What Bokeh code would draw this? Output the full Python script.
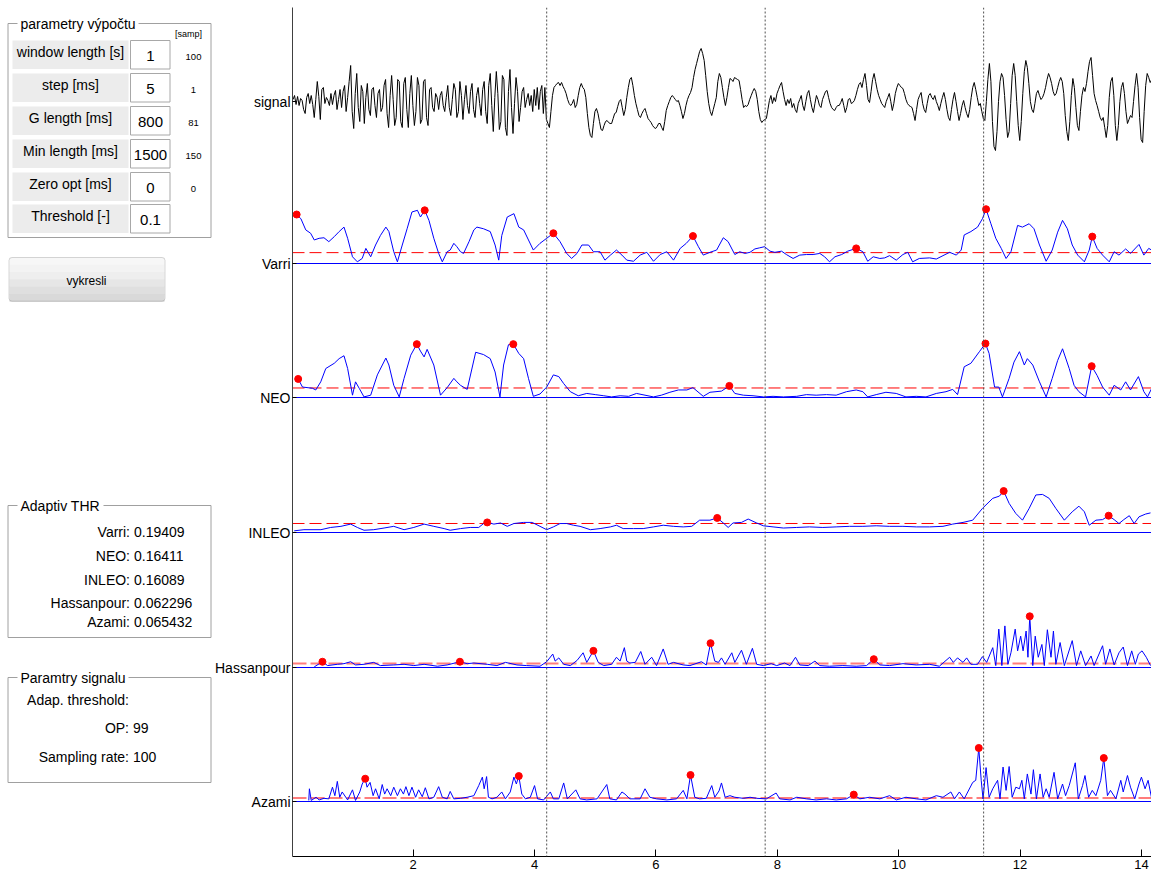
import numpy as np
from bokeh.plotting import figure
from bokeh.models import Range1d, FixedTicker, Label, Span, BoxAnnotation
from bokeh.layouts import row
from bokeh.embed import file_html
from bokeh.resources import INLINE

FONT = "Liberation Sans"

# ---------------- data ----------------
x_ticks = [2, 4, 6, 8, 10, 12, 14]
event_times = [4.2, 7.8, 11.4]
channel_names = ["signal", "Varri", "NEO", "INLEO", "Hassanpour", "Azami"]

signal_t0 = 0.02
signal_dt = 0.025
signal_v = [
    2, 6, -3, 5, -4, 3, 1, -8, -12, 4, 8, -2, 6, -3, -16, 2, 20, 5, -18, 12,
    14, -2, 4, 1, -4, 8, -3, 6, 11, -8, 2, 12, -6, 10, 16, -10, 4, 20, 36, -10,
    -27, 8, 28, -6, -20, 16, 10, -22, 4, 18, -8, -14, 12, 14, -4, -16, 8, 12, -10, -6,
    16, 22, -12, -26, 6, 26, 2, -24, -16, 22, 20, -20, -26, 18, 24, -8, -26, 8, 26, -4,
    -24, -10, 24, 16, -22, -18, 20, 22, -16, -24, 12, 14, -6, -10, 8, 4, -8, 6, 10, -4,
    -10, 4, 16, -6, -14, 2, 18, 12, -16, -10, 20, 6, -18, 2, 16, -4, -12, 10, 18, -8,
    -16, 6, 14, -2, -14, 12, 20, -10, -22, 16, 28, -4, -30, 4, 30, 8, -28, -20, 26, 22,
    -26, -34, 10, 32, -6, -32, -2, 24, 10, -20, -6, 10, 14, -6, 2, 8, -4, 6, -10, 12,
    -4, 14, -8, 10, 16, -12, 14, -18, -22, -26, -10, 6, 14, 16, 18, 19, 16, 19, 15, 12,
    8, 2, -2, -4, -2, 2, -6, -3, 6, 14, 18, 14, 12, 4, -12, -26, -34, -36, -22, -10,
    -7, -12, -20, -28, -29, -24, -20, -19, -21, -22, -22, -17, -12, -11, -5, 0, 2, -6, -14, -8,
    4, 14, 22, 24, 16, 6, -2, -8, -14, -16, -12, -9, -7, -12, -17, -19, -21, -24, -26, -27,
    -25, -22, -22, -26, -29, -20, -9, -4, 0, 4, 6, 4, 2, 0, 1, -4, -10, -17, -12, -4,
    2, 6, 9, 14, 24, 32, 38, 44, 50, 53, 48, 41, 26, 10, -2, -10, -14, -8, -2, 4,
    20, 28, 24, 14, 4, -4, 4, 14, 23, 22, 20, 24, 23, 22, 21, 12, 2, -6, -4, -5,
    -3, 2, 6, 10, 13, 10, 2, -10, -18, -21, -19, -18, -17, -8, 1, 6, -2, 4, 0, 8,
    12, 16, 19, 10, 2, -4, 2, -2, 3, -6, -2, -8, -11, -2, 2, 6, -4, -9, 0, 8,
    11, 2, -6, -11, -2, 6, 2, -4, -6, 2, 6, 10, 11, 4, -2, -6, -8, -9, -6, -4,
    -4, -1, 3, -4, -11, -6, 2, 3, -2, -1, 1, 6, 12, 17, 19, 14, 22, 28, 16, 2,
    -1, 10, 22, 28, 20, 12, 6, 2, -2, -4, -6, 0, 4, 8, 0, -9, -2, 8, 14, 18,
    16, 14, 13, 8, 2, -2, -4, -5, -6, -12, -19, -8, 2, 6, 9, -2, -8, -11, -2, 6,
    8, 4, 2, 6, 0, -4, -9, -2, 4, 9, 2, -8, -16, -19, -8, 2, 9, 0, -10, -19,
    -12, -4, 1, -6, -12, -16, -8, 4, 14, 19, 12, 4, -4, -2, -10, -17, -19, 0, 22, 38,
    20, -20, -45, -49, -30, 0, 20, 28, 24, 6, -18, -36, -30, -2, 26, 38, 26, 0, -24, -39,
    -20, 8, 30, 41, 34, 18, 0, -8, -11, -2, 8, 11, 6, 2, 4, 8, 14, 22, 28, 24,
    18, 10, 6, 8, 14, 20, 24, 20, 8, -14, -30, -39, -20, 6, 23, 14, -6, -24, -29, -10,
    6, 14, 10, 18, 30, 40, 44, 26, 8, 1, -4, -10, -16, -19, -16, -26, -36, -24, 4, 20,
    24, 6, -24, -39, -24, 0, 14, 19, 8, -10, -22, -18, -14, -16, 0, 16, 28, 14, -16, -38,
    -41, -10, 16, 28, 24, 19, 22, 20,
]

varri_t = [
    0.08, 0.15, 0.23, 0.31, 0.37, 0.45, 0.53, 0.61, 0.70, 0.78, 0.86, 0.92,
    1.00, 1.08, 1.16, 1.22, 1.30, 1.38, 1.46, 1.55, 1.60, 1.68, 1.74, 1.82, 1.90, 1.98,
    2.07, 2.12, 2.19, 2.26, 2.34, 2.42, 2.48, 2.56, 2.61, 2.67, 2.72, 2.78, 2.83, 2.92,
    3.00, 3.05, 3.16, 3.27, 3.35, 3.41, 3.46, 3.55, 3.66, 3.74, 3.82, 3.90, 3.98,
    4.09, 4.20, 4.31, 4.42, 4.53, 4.61, 4.70, 4.78, 4.89, 4.97,
    5.08, 5.16, 5.25, 5.35, 5.44, 5.52, 5.63, 5.74, 5.85, 5.96,
    6.07, 6.18, 6.29, 6.40, 6.50, 6.61, 6.70, 6.78, 6.89,
    7.00, 7.11, 7.19, 7.30, 7.38, 7.47, 7.55, 7.63, 7.71, 7.79, 7.88, 7.96,
    8.07, 8.15, 8.26, 8.37, 8.48, 8.59, 8.70, 8.78, 8.86, 8.95,
    9.06, 9.16, 9.30, 9.41, 9.49, 9.58, 9.69, 9.77, 9.85, 9.96,
    10.07, 10.15, 10.23, 10.34, 10.51, 10.62, 10.73, 10.84, 10.95,
    11.03, 11.08, 11.19, 11.30, 11.38, 11.44, 11.52, 11.60, 11.69, 11.77, 11.85, 11.96,
    12.04, 12.15, 12.23, 12.32, 12.43, 12.53, 12.62, 12.70, 12.78, 12.86, 12.95,
    13.06, 13.14, 13.19, 13.27, 13.36, 13.47, 13.55, 13.63, 13.74, 13.82, 13.96,
    14.04, 14.12, 14.20,
]
varri_v = [
    0.875, 0.80, 0.60, 0.54, 0.42, 0.45, 0.46, 0.39, 0.48, 0.57, 0.65, 0.45,
    0.12, 0.03, 0.09, 0.27, 0.12, 0.33, 0.50, 0.65, 0.57, 0.21, 0.03, 0.33, 0.62, 0.92,
    0.95, 0.83, 0.95, 0.77, 0.45, 0.18, 0.03, 0.21, 0.24, 0.36, 0.30, 0.21, 0.18, 0.39,
    0.60, 0.65, 0.62, 0.57, 0.33, 0.06, 0.50, 0.83, 0.89, 0.65, 0.60, 0.42, 0.24,
    0.36, 0.45, 0.54, 0.39, 0.18, 0.09, 0.18, 0.33, 0.33, 0.21,
    0.21, 0.06, 0.15, 0.24, 0.15, 0.06, 0.04, 0.15, 0.20, 0.04,
    0.16, 0.21, 0.06, 0.27, 0.36, 0.49, 0.30, 0.15, 0.20,
    0.24, 0.46, 0.39, 0.16, 0.21, 0.18, 0.20, 0.26, 0.28, 0.30, 0.22, 0.20,
    0.22, 0.16, 0.09, 0.15, 0.16, 0.16, 0.18, 0.12, 0.03, 0.12,
    0.16, 0.22, 0.27, 0.21, 0.04, 0.12, 0.09, 0.10, 0.14, 0.06,
    0.16, 0.20, 0.03, 0.09, 0.10, 0.08, 0.14, 0.20, 0.15,
    0.24, 0.51, 0.57, 0.65, 0.80, 0.97, 0.71, 0.45, 0.27, 0.09, 0.21, 0.68,
    0.65, 0.71, 0.62, 0.33, 0.04, 0.24, 0.56, 0.77, 0.62, 0.33, 0.15,
    0.03, 0.24, 0.48, 0.27, 0.15, 0.03, 0.21, 0.15, 0.26, 0.18, 0.34,
    0.15, 0.27, 0.22,
]
varri_peak_t = [0.08, 2.19, 4.31, 6.61, 9.30, 11.44, 13.19]
varri_peak_v = [0.875, 0.95, 0.54, 0.49, 0.27, 0.97, 0.48]

neo_t = [
    0.105, 0.176, 0.34, 0.395, 0.477, 0.56, 0.70, 0.78, 0.86, 0.92,
    1.00, 1.05, 1.11, 1.19, 1.30, 1.41, 1.55, 1.60, 1.68, 1.77, 1.85, 1.96,
    2.06, 2.12, 2.18, 2.23, 2.34, 2.45, 2.56, 2.67, 2.72, 2.78, 2.89,
    3.03, 3.16, 3.27, 3.35, 3.43, 3.49, 3.57, 3.65, 3.74, 3.82, 3.90, 3.98,
    4.09, 4.20, 4.31, 4.40, 4.48, 4.59, 4.72, 4.86,
    5.00, 5.14, 5.27, 5.41, 5.55, 5.68, 5.82, 5.96,
    6.09, 6.23, 6.37, 6.51, 6.61, 6.78, 6.89,
    7.08, 7.21, 7.30, 7.44, 7.60, 7.77, 7.93,
    8.10, 8.32, 8.48, 8.64, 8.81, 8.97,
    9.14, 9.30, 9.41, 9.49, 9.63, 9.79, 9.96,
    10.12, 10.29, 10.45, 10.62, 10.78, 10.89, 10.97,
    11.08, 11.19, 11.33, 11.43, 11.49, 11.58, 11.65, 11.71, 11.82, 11.90, 11.99,
    12.07, 12.12, 12.21, 12.32, 12.43, 12.53, 12.62, 12.70, 12.81, 12.89, 12.97,
    13.08, 13.18, 13.27, 13.36, 13.47, 13.55, 13.66, 13.74, 13.82, 13.95,
    14.04, 14.10, 14.17,
]
neo_v = [
    0.32, 0.18, 0.16, 0.13, 0.27, 0.50, 0.59, 0.67, 0.72, 0.50,
    0.04, 0.27, 0.16, 0.01, 0.04, 0.39, 0.68, 0.56, 0.21, 0.01, 0.33, 0.73,
    0.92, 0.80, 0.70, 0.83, 0.56, 0.04, 0.17, 0.33, 0.27, 0.21, 0.14,
    0.78, 0.74, 0.67, 0.44, 0.01, 0.56, 0.91, 0.92, 0.76, 0.67, 0.33, 0.02,
    0.06, 0.18, 0.39, 0.36, 0.24, 0.10, 0.03, 0.07,
    0.05, 0.03, 0.01, 0.03, 0.02, 0.07, 0.04, 0.01,
    0.04, 0.09, 0.13, 0.13, 0.17, 0.02, 0.09,
    0.11, 0.20, 0.07, 0.04, 0.03, 0.01, 0.02,
    0.01, 0.02, 0.05, 0.04, 0.05, 0.04,
    0.10, 0.13, 0.10, 0.01, 0.05, 0.09, 0.07,
    0.01, 0.02, 0.01, 0.07, 0.10, 0.14, 0.05,
    0.53, 0.59, 0.79, 0.93, 0.76, 0.18, 0.18, 0.01, 0.33, 0.61, 0.79,
    0.56, 0.67, 0.56, 0.27, 0.01, 0.33, 0.64, 0.84, 0.50, 0.21, 0.10,
    0.01, 0.54, 0.38, 0.18, 0.04, 0.21, 0.13, 0.27, 0.13, 0.36,
    0.10, 0.01, 0.16,
]
neo_peak_t = [0.105, 2.06, 3.65, 7.21, 11.43, 13.18]
neo_peak_v = [0.32, 0.92, 0.92, 0.20, 0.93, 0.54]

inleo_t = [
    0.04, 0.20, 0.48, 0.64, 0.81, 0.97, 1.08, 1.19, 1.35, 1.52, 1.68, 1.85,
    2.01, 2.18, 2.34, 2.51, 2.61, 2.78, 2.94, 3.08, 3.16, 3.22, 3.33, 3.44, 3.55, 3.66, 3.82, 3.96,
    4.09, 4.20, 4.31, 4.42, 4.53, 4.64, 4.75, 4.92, 5.08, 5.25, 5.35, 5.46, 5.63, 5.79, 5.96,
    6.12, 6.29, 6.45, 6.59, 6.72, 6.89, 7.01,
    7.11, 7.19, 7.27, 7.41, 7.52, 7.66, 7.77, 7.93, 8.10, 8.32, 8.53, 8.75, 8.97,
    9.19, 9.41, 9.63, 9.85, 10.07, 10.29, 10.51, 10.73, 10.89, 11.06, 11.22, 11.38,
    11.55, 11.66, 11.73, 11.82, 11.93, 12.04, 12.15, 12.26, 12.37, 12.48, 12.59, 12.73,
    12.86, 12.97, 13.06, 13.14, 13.25, 13.36, 13.46, 13.55, 13.63, 13.71, 13.80, 13.88,
    13.96, 14.07, 14.15,
]
inleo_v = [
    0.03, 0.05, 0.05, 0.09, 0.11, 0.15, 0.09, 0.04, 0.05, 0.08, 0.11, 0.05,
    0.09, 0.15, 0.11, 0.07, 0.04, 0.07, 0.09, 0.09, 0.16, 0.18, 0.15, 0.17, 0.11, 0.16, 0.18, 0.18,
    0.11, 0.05, 0.10, 0.16, 0.16, 0.13, 0.11, 0.05, 0.07, 0.10, 0.13, 0.07, 0.07, 0.07, 0.10,
    0.13, 0.11, 0.10, 0.11, 0.22, 0.22, 0.26,
    0.17, 0.09, 0.17, 0.18, 0.24, 0.17, 0.12, 0.10, 0.08, 0.09, 0.10, 0.09, 0.10,
    0.11, 0.11, 0.12, 0.11, 0.11, 0.10, 0.10, 0.11, 0.15, 0.18, 0.22, 0.43,
    0.61, 0.65, 0.74, 0.52, 0.34, 0.22, 0.43, 0.67, 0.68, 0.61, 0.43, 0.22,
    0.37, 0.47, 0.37, 0.13, 0.22, 0.23, 0.30, 0.23, 0.16, 0.23, 0.30, 0.16,
    0.28, 0.33, 0.35,
]
inleo_peak_t = [3.22, 7.01, 11.73, 13.46]
inleo_peak_v = [0.18, 0.26, 0.74, 0.30]

hassan_t = [
    0.37, 0.505, 0.59, 0.75, 0.86, 0.97, 1.05, 1.19, 1.35, 1.46, 1.68, 1.85,
    2.01, 2.18, 2.40, 2.56, 2.77, 2.89, 3.00, 3.22, 3.38, 3.52, 3.71, 3.87,
    4.09, 4.20, 4.30, 4.34, 4.40, 4.48, 4.59, 4.70, 4.80, 4.86, 4.97,
    5.05, 5.14, 5.27, 5.35, 5.41, 5.48, 5.52, 5.57, 5.66, 5.75, 5.82, 5.93,
    6.01, 6.12, 6.20, 6.29, 6.45, 6.56, 6.75, 6.83, 6.90, 6.97, 7.03,
    7.08, 7.14, 7.25, 7.30, 7.41, 7.49, 7.59, 7.66, 7.77, 7.90, 7.99,
    8.12, 8.21, 8.30, 8.37, 8.51, 8.62, 8.70, 8.86, 9.08, 9.30, 9.47, 9.59, 9.69, 9.85,
    10.07, 10.29, 10.51, 10.67, 10.84, 10.90, 10.97, 11.06, 11.12, 11.19, 11.30, 11.38, 11.45,
    11.55, 11.60, 11.65, 11.70, 11.75, 11.80, 11.85, 11.92, 11.96, 12.01, 12.05, 12.10, 12.13,
    12.16, 12.21, 12.25, 12.30, 12.36, 12.40, 12.45, 12.51, 12.55, 12.59, 12.66, 12.73,
    12.86, 12.93, 13.00, 13.08, 13.17, 13.22, 13.36, 13.41, 13.48, 13.55, 13.63, 13.70,
    13.77, 13.84, 13.90, 13.95, 14.01, 14.08, 14.15,
]
hassan_v = [
    0.01, 0.09, 0.03, 0.05, 0.06, 0.09, 0.04, 0.05, 0.08, 0.03, 0.04, 0.05,
    0.03, 0.05, 0.02, 0.04, 0.09, 0.06, 0.07, 0.05, 0.03, 0.08, 0.04, 0.03,
    0.02, 0.09, 0.21, 0.10, 0.15, 0.05, 0.03, 0.11, 0.23, 0.08, 0.26,
    0.08, 0.03, 0.05, 0.16, 0.10, 0.31, 0.10, 0.07, 0.08, 0.25, 0.05, 0.16,
    0.03, 0.29, 0.05, 0.08, 0.04, 0.03, 0.09, 0.04, 0.38, 0.10, 0.08,
    0.15, 0.05, 0.23, 0.08, 0.27, 0.05, 0.30, 0.05, 0.03, 0.06, 0.03,
    0.07, 0.03, 0.16, 0.04, 0.03, 0.10, 0.03, 0.02, 0.03, 0.02, 0.03, 0.13, 0.04, 0.03,
    0.06, 0.04, 0.05, 0.02, 0.16, 0.08, 0.15, 0.08, 0.15, 0.05, 0.05, 0.17, 0.08,
    0.31, 0.03, 0.60, 0.03, 0.65, 0.05, 0.23, 0.60, 0.26, 0.49, 0.26, 0.57, 0.16,
    0.80, 0.03, 0.49, 0.16, 0.36, 0.03, 0.59, 0.16, 0.57, 0.05, 0.39, 0.03,
    0.42, 0.03, 0.26, 0.03, 0.18, 0.03, 0.34, 0.05, 0.29, 0.04, 0.23, 0.32,
    0.03, 0.26, 0.05, 0.21, 0.26, 0.16, 0.03,
]
hassan_peak_t = [0.505, 2.77, 4.97, 6.90, 9.59, 12.16]
hassan_peak_v = [0.09, 0.09, 0.26, 0.38, 0.13, 0.80]

azami_t = [
    0.28, 0.29, 0.32, 0.40, 0.45, 0.53, 0.61, 0.67, 0.71, 0.75, 0.79, 0.83, 0.92,
    1.00, 1.05, 1.12, 1.16, 1.21, 1.24, 1.29, 1.34, 1.38, 1.44, 1.49, 1.53, 1.57,
    1.63, 1.68, 1.74, 1.79, 1.84, 1.88, 1.93, 1.98,
    2.04, 2.09, 2.15, 2.20, 2.26, 2.34, 2.42, 2.48, 2.56, 2.61, 2.67, 2.78, 2.89,
    3.00, 3.08, 3.14, 3.17, 3.21, 3.24, 3.30, 3.38, 3.46, 3.52, 3.60, 3.66, 3.70,
    3.74, 3.79, 3.85, 3.93,
    4.00, 4.05, 4.15, 4.26, 4.31, 4.40, 4.48, 4.54, 4.68, 4.75, 4.86,
    5.03, 5.19, 5.24, 5.35, 5.44, 5.49, 5.57, 5.74, 5.82, 5.90,
    6.01, 6.18, 6.34, 6.45, 6.51, 6.57, 6.64, 6.72, 6.83, 6.92, 6.97,
    7.04, 7.08, 7.14, 7.22, 7.30, 7.44, 7.55, 7.66, 7.82, 7.98,
    8.04, 8.21, 8.32, 8.48, 8.64, 8.81, 8.97,
    9.14, 9.26, 9.36, 9.52, 9.69, 9.85, 9.96,
    10.12, 10.29, 10.45, 10.62, 10.73, 10.86, 10.92,
    11.00, 11.08, 11.22, 11.27, 11.32, 11.36, 11.39, 11.44, 11.49, 11.55, 11.63, 11.67,
    11.72, 11.77, 11.82, 11.87, 11.93, 11.99,
    12.03, 12.07, 12.12, 12.18, 12.22, 12.27, 12.33, 12.38, 12.43, 12.48, 12.56, 12.62,
    12.70, 12.75, 12.81, 12.91, 12.96,
    13.03, 13.07, 13.13, 13.19, 13.25, 13.33, 13.38, 13.44, 13.49, 13.58, 13.66, 13.70,
    13.77, 13.82, 13.89, 13.96,
    14.00, 14.06, 14.11, 14.17,
]
azami_v = [
    0.02, 0.24, 0.02, 0.08, 0.03, 0.06, 0.05, 0.27, 0.11, 0.38, 0.08, 0.18, 0.03,
    0.22, 0.02, 0.18, 0.33, 0.43, 0.27, 0.36, 0.11, 0.24, 0.05, 0.32, 0.14, 0.24,
    0.11, 0.27, 0.11, 0.24, 0.14, 0.28, 0.11, 0.27,
    0.08, 0.22, 0.09, 0.26, 0.05, 0.08, 0.28, 0.08, 0.05, 0.19, 0.05, 0.06, 0.08,
    0.11, 0.30, 0.46, 0.24, 0.47, 0.08, 0.05, 0.08, 0.18, 0.05, 0.18, 0.46, 0.33,
    0.48, 0.14, 0.05, 0.08,
    0.30, 0.05, 0.03, 0.18, 0.05, 0.05, 0.35, 0.05, 0.22, 0.05, 0.03,
    0.05, 0.32, 0.05, 0.03, 0.18, 0.14, 0.05, 0.05, 0.24, 0.08,
    0.05, 0.03, 0.05, 0.21, 0.05, 0.50, 0.08, 0.05, 0.06, 0.30, 0.08,
    0.20, 0.35, 0.08, 0.11, 0.08, 0.06, 0.08, 0.06, 0.05, 0.16,
    0.05, 0.03, 0.08, 0.05, 0.03, 0.05, 0.03,
    0.05, 0.13, 0.05, 0.08, 0.05, 0.11, 0.03,
    0.08, 0.05, 0.03, 0.11, 0.08, 0.18, 0.05,
    0.18, 0.05, 0.36, 0.40, 1.01, 0.40, 0.05, 0.64, 0.08, 0.24, 0.40, 0.05,
    0.65, 0.21, 0.66, 0.08, 0.27, 0.24,
    0.40, 0.05, 0.52, 0.14, 0.60, 0.05, 0.52, 0.08, 0.24, 0.08, 0.55, 0.05,
    0.33, 0.11, 0.30, 0.73, 0.05,
    0.30, 0.49, 0.08, 0.21, 0.11, 0.40, 0.82, 0.11, 0.21, 0.05, 0.40, 0.18,
    0.49, 0.27, 0.05, 0.33,
    0.46, 0.24, 0.40, 0.05,
]
azami_peak_t = [1.21, 3.74, 6.57, 9.26, 11.32, 13.38]
azami_peak_v = [0.43, 0.48, 0.50, 0.13, 1.01, 0.82]

# GUI texts
param_labels = ["window length [s]", "step [ms]", "G length [ms]",
                "Min length [ms]", "Zero opt [ms]", "Threshold [-]"]
param_values = ["1", "5", "800", "1500", "0", "0.1"]
param_samples = ["100", "1", "81", "150", "0", ""]
thr_names = ["Varri", "NEO", "INLEO", "Hassanpour", "Azami"]
thr_values = [0.19409, 0.16411, 0.16089, 0.062296, 0.065432]
sig_labels = ["Adap. threshold:", "OP:", "Sampling rate:"]
sig_values = ["", "99", "100"]

# ---------------- layout (page pixels) ----------------
BASE = {"signal": 101, "Varri": 263, "NEO": 397, "INLEO": 532, "Hassanpour": 667, "Azami": 801}
SCALE = {"Varri": 56, "NEO": 58, "INLEO": 56, "Hassanpour": 64, "Azami": 53}
FRAME_TOP, FRAME_BOTTOM = 7, 856

# ---------------- left GUI figure ----------------
L = figure(width=212, height=874, x_range=Range1d(0, 212),
           y_range=Range1d(FRAME_BOTTOM, FRAME_TOP),
           output_backend="svg", toolbar_location=None,
           x_axis_location=None, y_axis_location=None,
           min_border_left=0, min_border_right=0,
           min_border_top=FRAME_TOP, min_border_bottom=874 - FRAME_BOTTOM)
L.grid.visible = False
L.outline_line_color = None
L.background_fill_color = "white"
L.border_fill_color = "white"


def lab(fig, x, y, text, size="14px", align="left", color="#000000"):
    fig.add_layout(Label(x=x, y=y, text=text, text_font=FONT, text_font_size=size,
                         text_align=align, text_baseline="middle", text_color=color))


def panel(top, bottom, title, title_w):
    L.quad(left=7.5, right=210.5, top=top, bottom=bottom, fill_color=None,
           line_color="#a0a0a0", line_width=1)
    L.quad(left=17, right=20 + title_w + 3, top=top - 8, bottom=top + 8,
           fill_color="white", line_color=None)
    lab(L, 20, top, title)


panel(23, 237, "parametry výpočtu", 115)
lab(L, 188, 33, "[samp]", size="9px", align="center")
row_tops = [40, 73, 106, 139, 172, 204]
for i, tp in enumerate(row_tops):
    L.quad(left=12, right=128, top=tp, bottom=tp + 28.5, fill_color="#ececec", line_color=None)
    L.quad(left=130, right=169.5, top=tp, bottom=tp + 28.5, fill_color="white",
           line_color="#a8a8a8", line_width=1)
    lab(L, 70, tp + 11, param_labels[i], align="center")
    lab(L, 150, tp + 15, param_values[i], size="15px", align="center")
    if param_samples[i]:
        lab(L, 193, tp + 16.5, param_samples[i], size="9.5px", align="center")

# button
band_cols = ["#f7f7f7", "#f3f3f3", "#eeeeee", "#e6e6e6", "#dfdfdf", "#d9d9d9"]
btn_top, btn_bot = 257, 300.7
h = (btn_bot - btn_top) / len(band_cols)
for k, c in enumerate(band_cols):
    L.quad(left=9, right=164, top=btn_top + k * h, bottom=btn_top + (k + 1) * h + 0.5,
           fill_color=c, line_color=None)
L.add_layout(BoxAnnotation(left=8.5, right=164.5, top=btn_top, bottom=btn_bot,
                           fill_color=None, line_color="#767676", line_width=1,
                           border_radius=3, level="overlay"))
lab(L, 86, 280, "vykresli", size="12px", align="center")

panel(505, 637, "Adaptiv THR", 80)
thr_y = [531.7, 555.7, 579, 602.3, 621.7]
for nm, v, yy in zip(thr_names, thr_values, thr_y):
    lab(L, 129.5, yy, nm + ":", align="right")
    lab(L, 133.5, yy, str(v), align="left")

panel(677, 782, "Paramtry signalu", 105)
sig_y = [699, 727.3, 756.7]
for nm, v, yy in zip(sig_labels, sig_values, sig_y):
    lab(L, 128.5, yy, nm, align="right")
    if v:
        lab(L, 132.5, yy, v, align="left")

# ---------------- right plot figure ----------------
P = figure(width=939, height=874, x_range=Range1d(0.0115, 14.166),
           y_range=Range1d(FRAME_BOTTOM, FRAME_TOP),
           output_backend="svg", toolbar_location=None,
           min_border_left=78, min_border_right=0,
           min_border_top=FRAME_TOP, min_border_bottom=874 - FRAME_BOTTOM)
P.grid.visible = False
P.outline_line_color = None
P.background_fill_color = "white"
P.border_fill_color = "white"

P.xaxis.ticker = FixedTicker(ticks=x_ticks)
P.xaxis.minor_tick_line_color = None
P.xaxis.major_tick_in = 7
P.xaxis.major_tick_out = 0
P.xaxis.major_label_standoff = 3
P.xaxis.major_label_text_font = FONT
P.xaxis.major_label_text_font_size = "13px"
P.xaxis.major_label_text_color = "#000000"
P.xaxis.axis_line_color = "#000000"
P.xaxis.major_tick_line_color = "#000000"

P.yaxis.ticker = FixedTicker(ticks=[BASE[n] for n in channel_names])
P.yaxis.major_label_overrides = {BASE[n]: n for n in channel_names}
P.yaxis.minor_tick_line_color = None
P.yaxis.major_tick_in = 4
P.yaxis.major_tick_out = 0
P.yaxis.major_label_standoff = 2
P.yaxis.major_label_text_font = FONT
P.yaxis.major_label_text_font_size = "14px"
P.yaxis.major_label_text_color = "#000000"
P.yaxis.axis_line_color = "#404040"
P.yaxis.major_tick_line_color = "#000000"

for et in event_times:
    P.add_layout(Span(location=et, dimension="height", line_color="#505050",
                      line_dash="2 2", line_width=1))

# signal
sig_t = signal_t0 + signal_dt * np.arange(len(signal_v))
P.line(sig_t, BASE["signal"] - np.array(signal_v, dtype=float), line_color="#000000", line_width=1)

channels = [
    ("Varri", varri_t, varri_v, varri_peak_t, varri_peak_v),
    ("NEO", neo_t, neo_v, neo_peak_t, neo_peak_v),
    ("INLEO", inleo_t, inleo_v, inleo_peak_t, inleo_peak_v),
    ("Hassanpour", hassan_t, hassan_v, hassan_peak_t, hassan_peak_v),
    ("Azami", azami_t, azami_v, azami_peak_t, azami_peak_v),
]
for (name, tt, vv, pt, pv), thr in zip(channels, thr_values):
    b, s = BASE[name], SCALE[name]
    n = min(len(tt), len(vv))
    P.add_layout(Span(location=b, dimension="width", line_color="#0000ff", line_width=1,
                      level="underlay"))
    if name in ("Hassanpour", "Azami"):
        P.add_layout(Span(location=b - thr * s, dimension="width", line_color="#ff5050",
                          line_width=2, line_alpha=0.75, line_dash="14 4", level="underlay"))
    else:
        P.add_layout(Span(location=b - thr * s, dimension="width", line_color="#ff0000",
                          line_width=1, line_dash="12 5", level="underlay"))
    P.line(np.array(tt[:n]), b - np.array(vv[:n]) * s, line_color="#0000ff", line_width=1)
    P.scatter(np.array(pt), b - np.array(pv) * s, size=7, color="#ff0000", line_color="#ff0000")

layout = row(L, P)
open("out.html", "w").write(file_html(layout, INLINE))
